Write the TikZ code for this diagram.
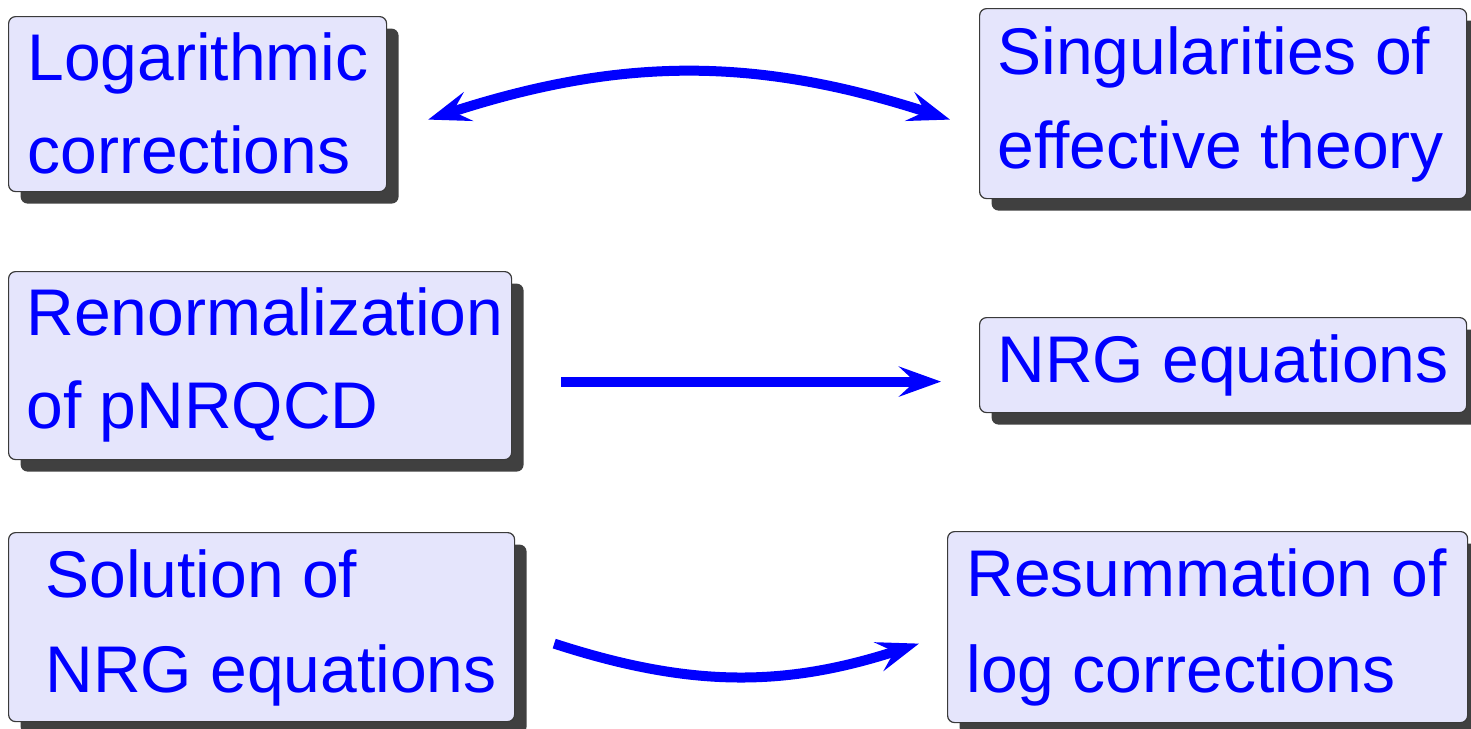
\documentclass[tikz,border=0pt]{standalone}
\usepackage{fontspec}
\setmainfont{Liberation Sans}
\usetikzlibrary{arrows.meta,shadows}
\definecolor{boxfill}{RGB}{229,229,252}
\definecolor{boxline}{RGB}{58,58,58}
\definecolor{shadowc}{RGB}{64,64,64}
\newcommand{\twoline}[3]{\vtop{\fontsize{33pt}{#1}\selectfont\hbox{#2}\hbox{#3}}}
\tikzset{bigtip/.tip={Stealth[length=21pt,width=15pt,inset=8pt]}}
\begin{document}
\begin{tikzpicture}[x=0.5pt,y=-0.5pt,
  flowbox/.style={draw=boxline, line width=0.6pt, fill=boxfill, rounded corners=3.5pt,
    inner sep=0pt, anchor=north west,
    drop shadow={shadow xshift=6pt, shadow yshift=-6pt, fill=shadowc, opacity=1}},
  boxtext/.style={anchor=base west, inner sep=0pt, text=blue, font=\fontsize{33pt}{46.5pt}\selectfont},
  conn/.style={draw=blue, line width=5pt, -bigtip},
]
\useasboundingbox (0,0) rectangle (1471,728);

\node[flowbox, minimum width=189pt,   minimum height=87.5pt] (b1) at (8,16) {};
\node[flowbox, minimum width=243.5pt, minimum height=95pt]   (b2) at (979,8) {};
\node[flowbox, minimum width=251.5pt, minimum height=94pt]   (b3) at (8,271) {};
\node[flowbox, minimum width=243.5pt, minimum height=47.5pt] (b4) at (979,317) {};
\node[flowbox, minimum width=253pt,   minimum height=94.5pt] (b5) at (8,532) {};
\node[flowbox, minimum width=260pt,   minimum height=95.5pt] (b6) at (947,531) {};

\node[boxtext] (t1) at (27,80)   {\twoline{46.5pt}{Logarithmic}{corrections}};
\node[boxtext] (t2) at (997,74)  {\twoline{47pt}{Singularities of}{effective theory}};
\node[boxtext] (t3) at (26,335)  {\twoline{46.5pt}{Renormalization}{of pNRQCD}};
\node[boxtext] (t4) at (997,382) {NRG equations};
\node[boxtext] (t5) at (45,597)  {\twoline{47.5pt}{Solution of}{NRG equations}};
\node[boxtext] (t6) at (966,596) {\twoline{48pt}{Resummation of}{log corrections}};

\draw[conn, bigtip-bigtip] ([shift={(41,15.5)}]b1.east) to[bend left=18] ([shift={(-29,16)}]b2.west);
\draw[conn] ([shift={(49,16)}]b3.east) -- ([shift={(-38,16.5)}]b4.west);
\draw[conn] ([shift={(39,16.5)}]b5.east) to[bend right=18] ([shift={(-28,16.5)}]b6.west);
\end{tikzpicture}
\end{document}
